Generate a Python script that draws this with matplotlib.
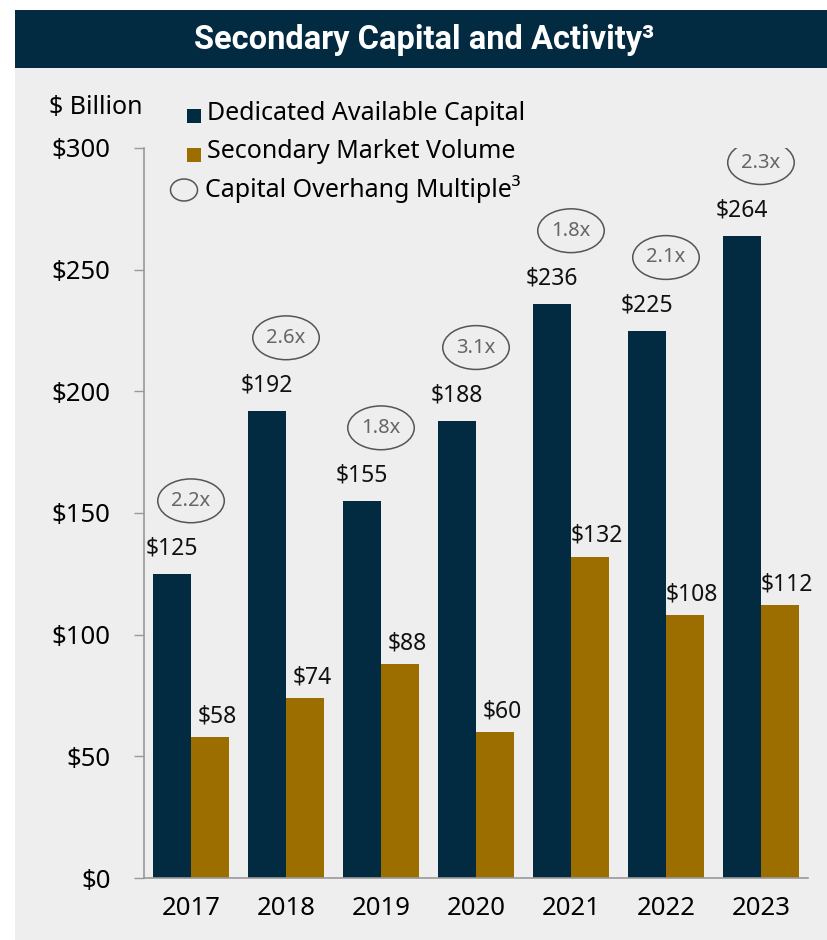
import numpy as np
import matplotlib.pyplot as plt
from matplotlib.patches import Ellipse, Rectangle

years = ["2017", "2018", "2019", "2020", "2021", "2022", "2023"]
dedicated_capital = [125, 192, 155, 188, 236, 225, 264]
market_volume = [58, 74, 88, 60, 132, 108, 112]
overhang_multiple = ["2.2x", "2.6x", "1.8x", "3.1x", "1.8x", "2.1x", "2.3x"]
y_ticks = [0, 50, 100, 150, 200, 250, 300]

NAVY = "#022a40"
GOLD = "#9c6e00"
BG = "#eeeeee"
FONT = ["Noto Sans", "DejaVu Sans"]

plt.rcParams["font.family"] = FONT


def main():
    fig = plt.figure(figsize=(8.27, 9.4), dpi=100)

    # gray panel and title band
    fig.patches.append(Rectangle((15 / 827, 0), 1, 872 / 940, transform=fig.transFigure,
                                 facecolor=BG, edgecolor="none", zorder=-2))
    fig.patches.append(Rectangle((15 / 827, 872 / 940), 1, 58 / 940, transform=fig.transFigure,
                                 facecolor=NAVY, edgecolor="none", zorder=-2))
    fig.text(424 / 827, 1 - 40 / 940, "Secondary Capital and Activity³", color="white",
             fontsize=23.5, fontweight="bold", ha="center", va="center",
             family=["Roboto", "DejaVu Sans"])

    ax = fig.add_axes([144 / 827, 62 / 940, 664 / 827, 730 / 940])
    ax.set_facecolor("none")

    x = np.arange(len(years))
    w = 0.4
    ax.bar(x - w / 2, dedicated_capital, w, color=NAVY, zorder=2)
    ax.bar(x + w / 2, market_volume, w, color=GOLD, zorder=2)

    for xi, v in zip(x, dedicated_capital):
        ax.annotate(f"${v}", (xi - w / 2, v), xytext=(0, 18), textcoords="offset points",
                    ha="center", va="center", fontsize=16.5, color="#111111")
    for xi, v in zip(x, market_volume):
        ax.annotate(f"${v}", (xi + w / 2, v), xytext=(5, 15), textcoords="offset points",
                    ha="center", va="center", fontsize=16.5, color="#111111")

    # overhang multiple ellipses above each group
    for xi, v, m in zip(x, dedicated_capital, overhang_multiple):
        ax.add_patch(Ellipse((xi, v + 30), 0.7, 18, facecolor="none",
                             edgecolor="#555555", linewidth=1.1, zorder=3))
        ax.text(xi, v + 30, m, ha="center", va="center", fontsize=14.5, color="#666666")

    ax.set_xlim(-0.495, len(years) - 0.505)
    ax.set_ylim(0, 300)
    ax.set_xticks(x, years)
    ax.set_yticks(y_ticks, [f"${t}" for t in y_ticks])
    ax.tick_params(axis="x", length=0, pad=13, labelsize=18.5)
    ax.tick_params(axis="y", length=7, width=1, color="#999999", pad=17, labelsize=18.5)
    for side in ["top", "right"]:
        ax.spines[side].set_visible(False)
    for side in ["left", "bottom"]:
        ax.spines[side].set_color("#999999")
        ax.spines[side].set_linewidth(1.2)

    # legend drawn by hand
    fig.text(49 / 827, 1 - 108 / 940, "$ Billion", fontsize=18, ha="left", va="center")
    fig.patches.append(Rectangle((187 / 827, 1 - 123 / 940), 14 / 827, 14 / 940,
                                 transform=fig.transFigure, facecolor=NAVY, edgecolor="none"))
    fig.text(207 / 827, 1 - 113 / 940, "Dedicated Available Capital", fontsize=18,
             ha="left", va="center")
    fig.patches.append(Rectangle((187 / 827, 1 - 162 / 940), 14 / 827, 14 / 940,
                                 transform=fig.transFigure, facecolor=GOLD, edgecolor="none"))
    fig.text(207 / 827, 1 - 151 / 940, "Secondary Market Volume", fontsize=18,
             ha="left", va="center")
    fig.patches.append(Ellipse((184 / 827, 1 - 190 / 940), 27 / 827, 22 / 940,
                               transform=fig.transFigure, facecolor="none",
                               edgecolor="#555555", linewidth=1.1))
    fig.text(205 / 827, 1 - 189 / 940, "Capital Overhang Multiple³", fontsize=18,
             ha="left", va="center")

    fig.savefig("out.png", dpi=100, facecolor="white")
    plt.close(fig)


if __name__ == "__main__":
    main()
